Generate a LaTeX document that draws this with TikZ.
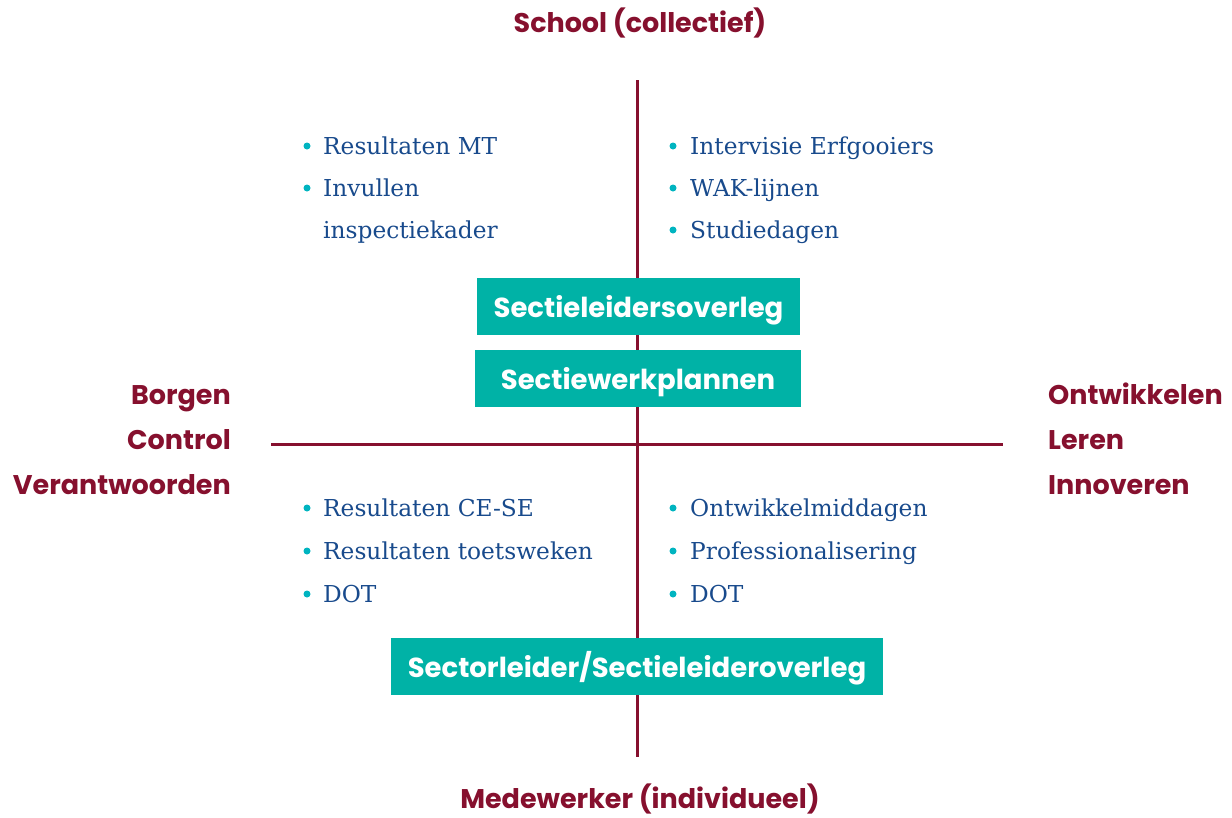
\documentclass[tikz,border=0pt]{standalone}
\usepackage{fontspec}
\setmainfont{DejaVu Serif}
\setsansfont{Poppins}
\usetikzlibrary{positioning}
\definecolor{wine}{RGB}{134,16,46}
\definecolor{teal}{RGB}{0,178,166}
\definecolor{dotteal}{RGB}{0,180,192}
\definecolor{navy}{RGB}{24,74,140}
\begin{document}
\begin{tikzpicture}[x=1pt,y=-1pt,
  axis/.style={draw=wine,line width=3pt},
  head/.style={text=wine,font=\sffamily\bfseries\fontsize{27}{31}\selectfont,inner sep=0pt},
  tealbox/.style={fill=teal,text=white,font=\sffamily\bfseries\fontsize{27.5}{31}\selectfont,text height=39.5pt,text depth=17.5pt,inner sep=0pt},
  item/.style={text=navy,font=\fontsize{23.3}{27}\selectfont,anchor=base west,inner sep=0pt},
  bul/.style={circle,fill=dotteal,minimum size=7pt,inner sep=0pt}]
  \useasboundingbox (0,0) rectangle (1232,817);

  % Axes
  \coordinate (top) at (637,80);
  \coordinate (bot) at (637,757);
  \coordinate (lft) at (271,444);
  \coordinate (rgt) at (1003,444);
  \draw[axis] (top) -- (bot);
  \draw[axis] (lft) -- (rgt);

  % Axis labels
  \node[head,anchor=base] (school) at (640,32) {School (collectief)};
  \node[head,anchor=base] (medew) at (640,808) {Medewerker (individueel)};
  \node[head,anchor=base east] (borgen) at (231,404) {Borgen};
  \node[head,anchor=base east] (control) at (231,449) {Control};
  \node[head,anchor=base east] (verantw) at (231,494) {Verantwoorden};
  \node[head,anchor=base west] (ontw) at (1048,404) {Ontwikkelen};
  \node[head,anchor=base west] (leren) at (1048,449) {Leren};
  \node[head,anchor=base west] (innov) at (1048,494) {Innoveren};

  % Overleg boxes
  \node[tealbox,minimum width=323pt] (overleg) at (638.5,306.5) {Sectieleidersoverleg};
  \node[tealbox,minimum width=326pt] (plannen) at (638,378.5) {Sectiewerkplannen};
  \node[tealbox,minimum width=492pt] (sector) at (637,666.5) {Sectorleider/Sectieleideroverleg};

  % Top left quadrant
  \node[bul] (b1) at (307,146) {};
  \node[item] (t1) at (323,154) {Resultaten MT};
  \node[bul] (b2) at (307,188) {};
  \node[item] (t2) at (323,196) {Invullen};
  \node[item] (t3) at (323,238) {inspectiekader};

  % Top right quadrant
  \node[bul] (b4) at (673,146) {};
  \node[item] (t4) at (690,154) {Intervisie Erfgooiers};
  \node[bul] (b5) at (673,188) {};
  \node[item] (t5) at (690,196) {WAK-lijnen};
  \node[bul] (b6) at (673,230) {};
  \node[item] (t6) at (690,238) {Studiedagen};

  % Bottom left quadrant
  \node[bul] (b7) at (307,508) {};
  \node[item] (t7) at (323,516) {Resultaten CE-SE};
  \node[bul] (b8) at (307,551) {};
  \node[item] (t8) at (323,559) {Resultaten toetsweken};
  \node[bul] (b9) at (307,594) {};
  \node[item] (t9) at (323,602) {DOT};

  % Bottom right quadrant
  \node[bul] (b10) at (673,508) {};
  \node[item] (t10) at (690,516) {Ontwikkelmiddagen};
  \node[bul] (b11) at (673,551) {};
  \node[item] (t11) at (690,559) {Professionalisering};
  \node[bul] (b12) at (673,594) {};
  \node[item] (t12) at (690,602) {DOT};
\end{tikzpicture}
\end{document}
